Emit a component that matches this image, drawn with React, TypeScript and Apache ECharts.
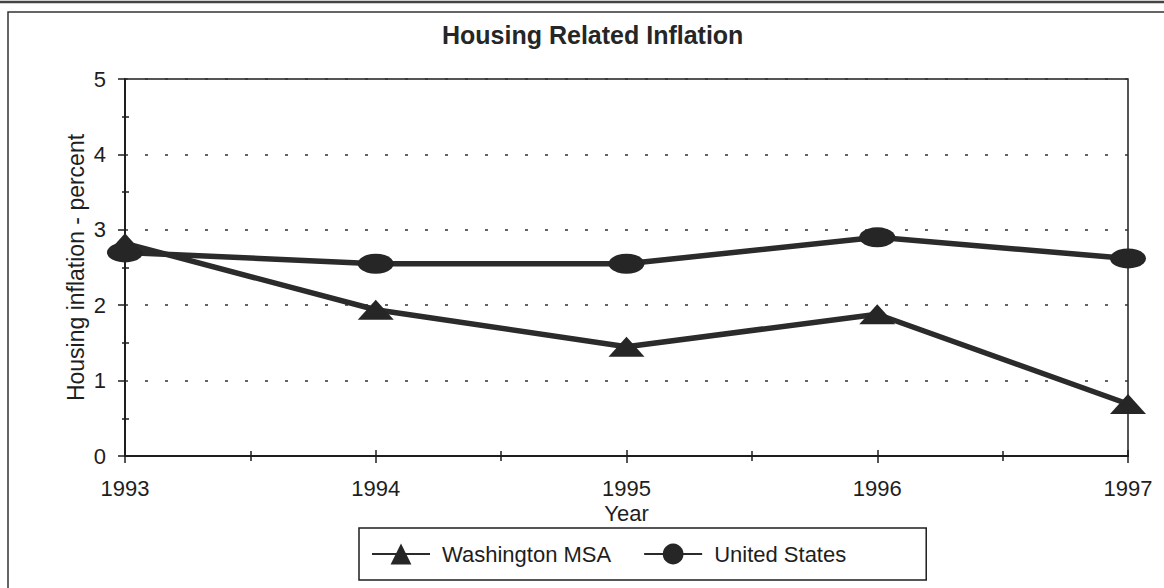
import React, { useEffect, useRef } from "react";
import * as echarts from "echarts";

const years = [1993, 1994, 1995, 1996, 1997];
const washingtonMSA = [2.82, 1.94, 1.45, 1.88, 0.69];
const unitedStates = [2.7, 2.55, 2.55, 2.9, 2.62];
const yTicks = [0, 1, 2, 3, 4, 5];

const titleText = "Housing Related Inflation";
const seriesNames = ["Washington MSA", "United States"];

const FONT = "Liberation Sans, Arial, Helvetica, sans-serif";
const INK = "#1e1e1e";

export default function App() {
  const ref = useRef<HTMLDivElement>(null);

  useEffect(() => {
    if (!ref.current) return;
    const chart = echarts.init(ref.current, null, { renderer: "svg" });
    const yMin = yTicks[0];
    const yMax = yTicks[yTicks.length - 1];
    const xMin = years[0];
    const xMax = years[years.length - 1];

    const gridLeft = 125;
    const gridTop = 79;
    const gridRight = 36;
    const gridBottom = 132;
    const gridW = 1164 - gridLeft - gridRight;
    const gridH = 588 - gridTop - gridBottom;

    const option: any = {
      animation: false,
      backgroundColor: "#ffffff",
      textStyle: { fontFamily: FONT, color: INK },
      title: {
        text: titleText,
        left: 437,
        top: 17,
        textStyle: { fontFamily: FONT, fontSize: 25, fontWeight: "bold", color: "#262626" },
      },
      grid: {
        left: gridLeft,
        top: gridTop,
        right: gridRight,
        bottom: gridBottom,
        show: true,
        borderColor: INK,
        borderWidth: 1.5,
        backgroundColor: "transparent",
      },
      legend: {
        data: seriesNames,
        left: 359,
        top: 528,
        orient: "horizontal",
        padding: [15, 80, 15, 12],
        itemGap: 32,
        itemWidth: 58,
        itemHeight: 26,
        borderColor: INK,
        borderWidth: 1.5,
        textStyle: { fontFamily: FONT, fontSize: 22, color: INK, padding: [0, 0, 0, 7] },
      },
      xAxis: [
        {
          type: "value",
          min: xMin,
          max: xMax,
          interval: 1,
          position: "bottom",
          name: "Year",
          nameLocation: "middle",
          nameGap: 46,
          nameMoveOverlap: false,
          nameTextStyle: { fontFamily: FONT, fontSize: 22, color: INK },
          axisLine: { show: true, onZero: false, lineStyle: { color: INK, width: 2 } },
          axisTick: { show: true, length: 7, lineStyle: { color: INK, width: 1.5 } },
          minorTick: { show: true, splitNumber: 2, length: 5, lineStyle: { color: INK, width: 1.5 } },
          axisLabel: {
            margin: 21,
            fontFamily: FONT,
            fontSize: 22,
            color: INK,
            formatter: (v: number) => String(v),
          },
          splitLine: { show: false },
        },
        {
          type: "value",
          min: xMin,
          max: xMax,
          interval: 1,
          position: "top",
          offset: -gridH,
          axisLine: { show: false },
          axisTick: { show: true, inside: false, length: 6, lineStyle: { color: INK, width: 1.5 } },
          minorTick: { show: true, splitNumber: 2, length: 5, lineStyle: { color: INK, width: 1.5 } },
          axisLabel: { show: false },
          splitLine: { show: false },
        },
      ],
      yAxis: [
        {
          type: "value",
          min: yMin,
          max: yMax,
          interval: 1,
          position: "left",
          name: "Housing inflation - percent",
          nameLocation: "middle",
          nameGap: 38,
          nameMoveOverlap: false,
          nameTextStyle: { fontFamily: FONT, fontSize: 23, color: INK },
          axisLine: { show: true, onZero: false, lineStyle: { color: INK, width: 2 } },
          axisTick: { show: true, length: 7, lineStyle: { color: INK, width: 1.5 } },
          minorTick: { show: true, splitNumber: 2, length: 3, lineStyle: { color: INK, width: 1.5 } },
          axisLabel: { margin: 19, fontFamily: FONT, fontSize: 22, color: INK },
          splitLine: {
            show: true,
            lineStyle: { color: "#333", width: 1.6, type: [3, 17] },
          },
        },
        {
          type: "value",
          min: yMin,
          max: yMax,
          interval: 1,
          position: "right",
          offset: -gridW,
          axisLine: { show: false },
          axisTick: { show: false },
          minorTick: { show: true, splitNumber: 2, length: 4, lineStyle: { color: INK, width: 1.5 } },
          axisLabel: { show: false },
          splitLine: { show: false },
        },
      ],
      series: [
        {
          name: seriesNames[0],
          type: "line",
          xAxisIndex: 0,
          yAxisIndex: 0,
          data: years.map((y, i) => [y, washingtonMSA[i]]),
          symbol: "triangle",
          symbolSize: [36, 20],
          itemStyle: { color: "#262626" },
          lineStyle: { color: "#2b2b2b", width: 5.5 },
          z: 3,
        },
        {
          name: seriesNames[1],
          type: "line",
          xAxisIndex: 0,
          yAxisIndex: 0,
          data: years.map((y, i) => [y, unitedStates[i]]),
          symbol: "circle",
          symbolSize: [36, 20],
          itemStyle: { color: "#262626" },
          lineStyle: { color: "#2b2b2b", width: 5.5 },
          z: 2,
        },
      ],
      graphic: [
        {
          type: "line",
          shape: { x1: 0, y1: 2, x2: 1164, y2: 2 },
          style: { stroke: "#444", lineWidth: 2.5 },
          silent: true,
        },
        {
          type: "polyline",
          shape: { points: [[8, 588], [8, 12], [1164, 12]] },
          style: { stroke: "#333", lineWidth: 1.5, fill: "none" },
          silent: true,
        },
      ],
    };

    chart.setOption(option);
    return () => chart.dispose();
  }, []);

  return (
    <div
      ref={ref}
      style={{ position: "fixed", left: 0, top: 0, width: 1164, height: 588, background: "#fff" }}
    />
  );
}
